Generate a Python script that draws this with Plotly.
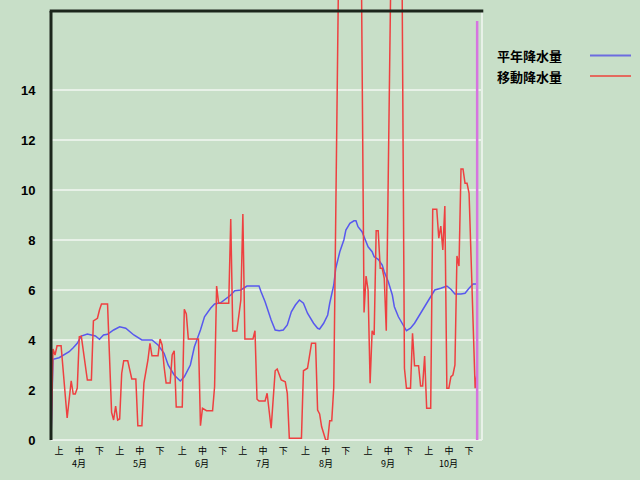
import pandas as pd
import plotly.graph_objects as go

# ---- data (days counted from season start, values in mm) ----
season_start = "2023-04-01"

normal_days = [0, 1, 4, 6, 9, 11, 13, 15, 18, 22, 24, 26, 28, 31, 34, 37, 41, 45, 50, 53,
               56, 58, 61, 64, 66, 69, 71, 74, 76, 79, 81, 84, 86, 89, 91, 94, 97, 103, 104, 106,
               109, 111, 113, 115, 117, 119, 121, 123, 125, 127, 130, 132, 133, 135, 137, 138, 140, 141, 143, 145,
               146, 148, 150, 151, 152, 154, 155, 157, 159, 160, 162, 164, 165, 167, 169, 170, 172, 174, 175, 176,
               178, 180, 183, 185, 188, 190, 193, 196, 198, 200, 203, 205, 207, 209, 211]
normal_vals = [0, 3.23, 3.29, 3.4, 3.53, 3.69, 3.87, 4.16, 4.24, 4.16, 4.03, 4.2, 4.23, 4.4, 4.53, 4.47, 4.2, 4.0, 4.0, 3.8,
               3.47, 3.0, 2.6, 2.36, 2.53, 3.0, 3.73, 4.4, 4.93, 5.27, 5.44, 5.49, 5.6, 5.8, 5.97, 6.0, 6.16, 6.16, 5.93, 5.53,
               4.8, 4.4, 4.37, 4.4, 4.6, 5.13, 5.4, 5.6, 5.47, 5.07, 4.67, 4.47, 4.44, 4.67, 5.0, 5.47, 6.2, 6.87, 7.53, 8.0,
               8.4, 8.67, 8.77, 8.77, 8.53, 8.33, 8.13, 7.73, 7.53, 7.33, 7.23, 7.0, 6.73, 6.33, 5.8, 5.33, 4.93, 4.67, 4.51, 4.37,
               4.47, 4.67, 5.07, 5.33, 5.73, 6.0, 6.07, 6.16, 6.03, 5.84, 5.84, 5.87, 6.07, 6.24, 6.24]

moving_days = [0, 1, 2, 3, 5, 8, 10, 11, 12, 13, 14, 15, 18, 20, 21, 23, 24, 25, 28, 30,
               31, 32, 33, 34, 35, 36, 38, 39, 40, 42, 43, 45, 46, 48, 49, 50, 53, 54, 55, 56,
               57, 59, 60, 61, 62, 65, 66, 67, 68, 73, 74, 75, 77, 80, 81, 82, 83, 88, 89, 90,
               92, 94, 95, 96, 100, 101, 102, 103, 106, 107, 109, 111, 112, 114, 116, 117, 118, 124, 125, 127,
               129, 131, 132, 133, 134, 136, 137, 138, 139, 140, 143, 148, 153, 155, 156, 157, 158, 159, 160, 161,
               162, 163, 164, 165, 166, 169, 171, 173, 175, 176, 178, 179, 180, 182, 183, 184, 185, 186, 188, 189,
               191, 192, 193, 194, 195, 196, 197, 198, 199, 200, 201, 202, 203, 204, 205, 206, 207, 210, 211]
moving_vals = [0, 3.64, 3.4, 3.77, 3.77, 0.88, 2.37, 1.84, 1.84, 2.08, 4.13, 4.15, 2.4, 2.4, 4.76, 4.87, 5.2, 5.44, 5.44, 1.1,
               0.8, 1.36, 0.8, 0.84, 2.66, 3.17, 3.17, 2.8, 2.44, 2.44, 0.57, 0.57, 2.28, 3.2, 3.87, 3.37, 3.37, 4.04, 3.8, 2.93,
               2.28, 2.28, 3.4, 3.57, 1.32, 1.32, 5.23, 5.04, 4.04, 4.04, 0.57, 1.27, 1.17, 1.17, 2.13, 6.16, 5.47, 5.47, 8.84, 4.36,
               4.36, 5.6, 9.04, 4.04, 4.04, 4.37, 1.63, 1.56, 1.56, 1.87, 0.47, 2.77, 2.84, 2.4, 2.33, 1.87, 0.07, 0.07, 2.77, 2.87,
               3.87, 3.87, 1.2, 1.04, 0.53, 0, 0, 0.77, 0.77, 2.1, 23, 28, 25.9, 5.1, 6.56, 6.0, 2.27, 4.37, 4.2, 8.37,
               8.37, 6.87, 6.87, 6.47, 4.37, 23.3, 30, 29.7, 2.87, 2.07, 2.07, 4.27, 2.97, 2.97, 2.16, 2.16, 3.36, 1.27, 1.27, 9.23,
               9.23, 8.07, 8.56, 7.6, 9.36, 2.07, 2.07, 2.53, 2.6, 3.0, 7.36, 6.96, 10.84, 10.84, 10.27, 10.27, 9.87, 2.07, 2.73]

months = [4, 5, 6, 7, 8, 9, 10]
dekad_days = [5, 15, 25]
dekad_labels = ["上", "中", "下"]
y_ticks = [0, 2, 4, 6, 8, 10, 12, 14]
series_names = ["平年降水量", "移動降水量"]

# ---- build ----
start = pd.Timestamp(season_start)
normal_dates = start + pd.to_timedelta(normal_days, unit="D")
moving_dates = start + pd.to_timedelta(moving_days, unit="D")

tickvals, ticktext = [], []
for m in months:
    for d, lab in zip(dekad_days, dekad_labels):
        tickvals.append(pd.Timestamp(year=start.year, month=m, day=d))
        ticktext.append(lab)

BG = "#c8dfc8"
GRID = "#e8f1e8"
BLUE = "#5858ee"
RED = "#ee4040"
CJK = "Noto Sans CJK JP"

fig = go.Figure()
fig.add_trace(go.Scatter(x=normal_dates, y=normal_vals, mode="lines", name=series_names[0],
                         line=dict(color=BLUE, width=1.5), showlegend=False))
fig.add_trace(go.Scatter(x=moving_dates, y=moving_vals, mode="lines", name=series_names[1],
                         line=dict(color=RED, width=1.5), showlegend=False))

x_end = start + pd.Timedelta(days=213.4)

fig.update_layout(
    width=640, height=480,
    margin=dict(l=51, r=158, t=0, b=40),
    paper_bgcolor=BG, plot_bgcolor=BG,
    showlegend=False,
    xaxis=dict(range=[start, x_end], tickvals=tickvals, ticktext=ticktext,
               showgrid=False, zeroline=False, showline=False,
               ticks="outside", ticklen=2, tickcolor=BG,
               tickfont=dict(family=CJK, size=9, color="#000000")),
    yaxis=dict(range=[0, 17.6], tickvals=y_ticks, showgrid=True, gridcolor=GRID, gridwidth=1.5,
               zeroline=True, zerolinecolor=GRID, zerolinewidth=2, showline=False,
               ticks="outside", ticklen=12, tickcolor=BG,
               tickfont=dict(family="Liberation Sans", size=13, color="#000000", weight="bold")),
)

# month labels under the 中 ticks
for m in months:
    fig.add_annotation(x=pd.Timestamp(year=start.year, month=m, day=15), y=(440 - 464) / 440,
                       xref="x", yref="paper", text=f"{m}月", showarrow=False,
                       xanchor="center", yanchor="middle",
                       font=dict(family=CJK, size=9, color="#000000"))

top = (440 - 11) / 440
# frame: black left and top, light right
fig.add_shape(type="line", xref="paper", yref="paper", x0=1.0, x1=1.0, y0=0, y1=top,
              line=dict(color=GRID, width=2))
fig.add_shape(type="line", xref="paper", yref="paper", x0=0, x1=0, y0=0, y1=top,
              line=dict(color="#1c261c", width=3))
fig.add_shape(type="line", xref="paper", yref="paper", x0=-0.003, x1=1.003, y0=top, y1=top,
              line=dict(color="#1c261c", width=3))
# today marker
fig.add_shape(type="line", xref="x", yref="paper", x0=moving_dates[-1], x1=moving_dates[-1],
              y0=0, y1=(440 - 21) / 440, line=dict(color="#d674e0", width=2.5))

# custom legend (text then line)
for name, color, ypx in [(series_names[0], "#6c6ce0", 55.5), (series_names[1], "#e46a5e", 76)]:
    yp = (440 - ypx) / 440
    fig.add_annotation(x=(495 - 51) / 431, y=yp, xref="paper", yref="paper", text=name,
                       showarrow=False, xanchor="left", yanchor="middle",
                       font=dict(family=CJK, size=13, color="#000000", weight="bold"))
    fig.add_shape(type="line", xref="paper", yref="paper",
                  x0=(590 - 51) / 431, x1=(631 - 51) / 431, y0=yp, y1=yp,
                  line=dict(color=color, width=2))

fig.write_html("out.html", config={"displayModeBar": False},
               post_script="document.body.style.margin='0';document.body.style.overflow='hidden';")
